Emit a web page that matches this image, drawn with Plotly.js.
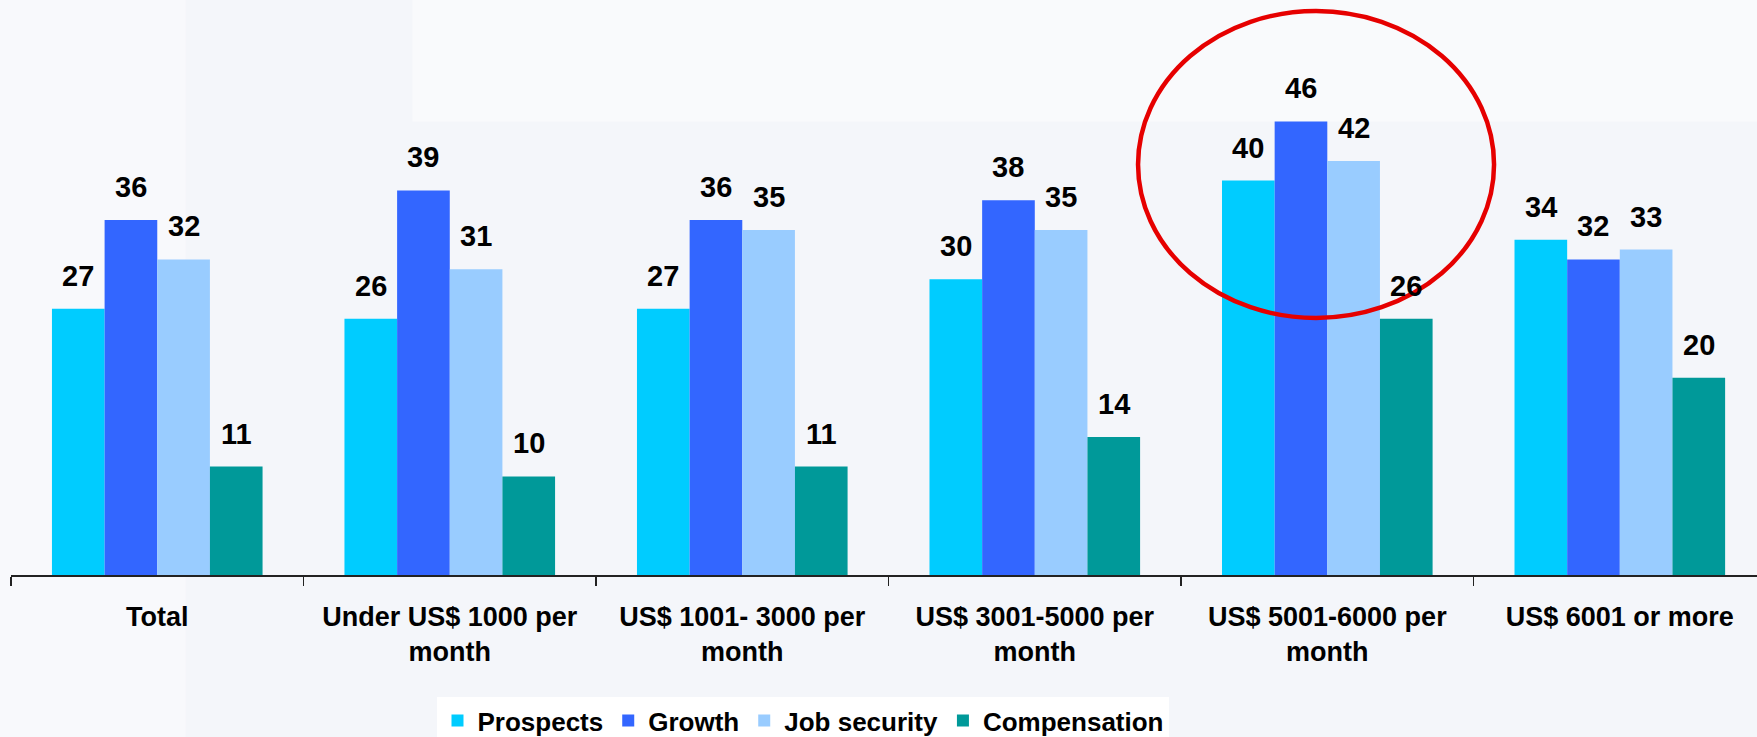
<!DOCTYPE html>
<html>
<head>
<meta charset="utf-8">
<script src="https://cdn.plot.ly/plotly-3.0.1.min.js"></script>
<style>html,body{margin:0;padding:0;background:#f4f6fa;}#chart{width:1757px;height:737px;}</style>
</head>
<body>
<div id="chart"></div>
<script>
var categories = ["Total", "Under US$ 1000 per<br>month", "US$ 1001- 3000 per<br>month", "US$ 3001-5000 per<br>month", "US$ 5001-6000 per<br>month", "US$ 6001 or more"];
var seriesNames = ["Prospects", "Growth", "Job security", "Compensation"];
var prospects = [27, 26, 27, 30, 40, 34];
var growth = [36, 39, 36, 38, 46, 32];
var jobSecurity = [32, 31, 35, 35, 42, 33];
var compensation = [11, 10, 11, 14, 26, 20];

var seriesValues = [prospects, growth, jobSecurity, compensation];
var colors = ["#00CCFF", "#3366FF", "#99CCFF", "#009999"];
var FONT = "Liberation Sans, Arial, Helvetica, sans-serif";
var BARGAP = 0.28;

var traces = seriesValues.map(function (vals, s) {
  return {
    type: "bar",
    name: seriesNames[s],
    x: categories,
    y: vals,
    marker: { color: colors[s], line: { width: 0 } },
    hoverinfo: "skip"
  };
});

// value labels placed above each bar, using the grouped bar offsets
var nS = seriesValues.length;
var bw = (1 - BARGAP) / nS;
var annotations = [];
seriesValues.forEach(function (vals, s) {
  vals.forEach(function (v, i) {
    annotations.push({
      x: i + (s - (nS - 1) / 2) * bw,
      y: v,
      xref: "x", yref: "y",
      text: String(v),
      showarrow: false,
      yanchor: "bottom",
      yshift: 15,
      font: { family: FONT, size: 29, color: "#000", weight: "bold" }
    });
  });
});

var layout = {
  width: 1757,
  height: 737,
  margin: { l: 11, r: 0, t: 82, b: 162, autoexpand: false },
  paper_bgcolor: "#f4f6fa",
  plot_bgcolor: "rgba(0,0,0,0)",
  barmode: "group",
  bargap: BARGAP,
  bargroupgap: 0,
  showlegend: true,
  legend: {
    orientation: "h",
    xref: "container", yref: "container",
    x: 0.249, xanchor: "left",
    y: 0.054, yanchor: "top",
    bgcolor: "#ffffff",
    font: { family: FONT, size: 26, color: "#000", weight: "bold" },
    itemwidth: 30,
    tracegroupgap: 0,
    traceorder: "normal"
  },
  xaxis: {
    type: "category",
    automargin: false,
    range: [-0.5, 5.469],
    showline: true,
    linecolor: "#222",
    linewidth: 1.5,
    ticks: "outside",
    tickson: "boundaries",
    ticklen: 9,
    tickcolor: "#222",
    tickwidth: 1.5,
    ticklabelstandoff: 17,
    showgrid: false,
    zeroline: false,
    tickfont: { family: FONT, size: 27, color: "#000", weight: "bold" },
    fixedrange: true
  },
  yaxis: {
    range: [0, 50],
    visible: false,
    automargin: false,
    showgrid: false,
    zeroline: false,
    fixedrange: true
  },
  annotations: annotations,
  shapes: [
    { type: "rect", xref: "paper", yref: "paper", x0: 0.23, x1: 1.01, y0: 0.92, y1: 1.2, layer: "below", fillcolor: "#f9fafc", line: { width: 0 } },
    { type: "rect", xref: "paper", yref: "paper", x0: -0.01, x1: 0.1, y0: -0.4, y1: 1.2, layer: "below", fillcolor: "#f8f9fc", line: { width: 0 } },
    { type: "circle", xref: "paper", yref: "paper", x0: 0.6455, x1: 0.8494, y0: 0.5213, y1: 1.144, layer: "above", line: { color: "#e60000", width: 4.5 } }
  ]
};

Plotly.newPlot("chart", traces, layout, { displayModeBar: false, staticPlot: true });
</script>
</body>
</html>
